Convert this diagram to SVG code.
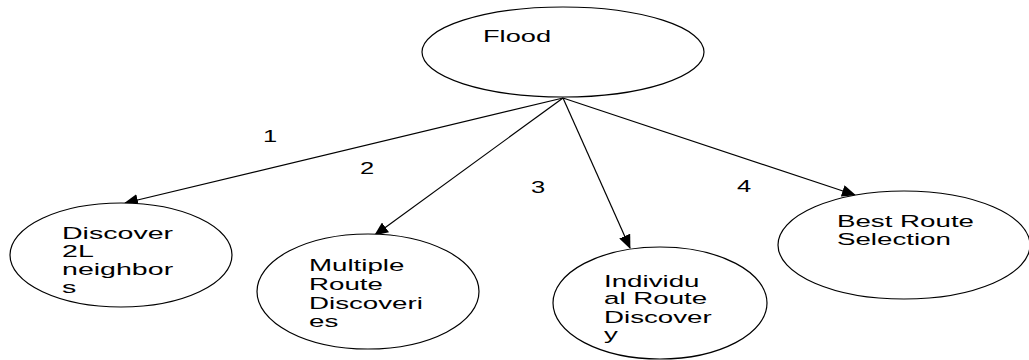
<svg xmlns="http://www.w3.org/2000/svg" width="1029" height="360" viewBox="0 0 1029 360">
<style>
.node{fill:#fff;stroke:#000;stroke-width:1.2}
.lbl{font-family:"Liberation Sans",Arial,sans-serif;font-size:17px;fill:#000}
.edge{stroke:#000;stroke-width:1.2;fill:none;marker-end:url(#ah)}
</style>
<defs>
<marker id="ah" markerUnits="userSpaceOnUse" markerWidth="14" markerHeight="12" viewBox="0 0 14 12" refX="13" refY="6" orient="auto">
<path d="M0,0 L14,6 L0,12 z" fill="#000"/>
</marker>
</defs>
<rect width="1029" height="360" fill="#fff"/>
<g id="connectors">
<line class="edge" x1="563" y1="98" x2="125" y2="203"/>
<line class="edge" x1="563" y1="98" x2="375" y2="235"/>
<line class="edge" x1="563" y1="98" x2="630" y2="248"/>
<line class="edge" x1="563" y1="98" x2="855" y2="195"/>
<text class="lbl" transform="translate(263 142) scale(1.5 1)">1</text>
<text class="lbl" transform="translate(360 174) scale(1.5 1)">2</text>
<text class="lbl" transform="translate(531 193) scale(1.5 1)">3</text>
<text class="lbl" transform="translate(737 192) scale(1.5 1)">4</text>
</g>
<g id="flood">
<ellipse class="node" cx="563" cy="52" rx="141" ry="45"/>
<text class="lbl" transform="translate(483 42) scale(1.6 1)">Flood</text>
</g>
<g id="discover2l">
<ellipse class="node" cx="121" cy="255" rx="111" ry="52"/>
<text class="lbl" transform="translate(62 239) scale(1.68 1)"><tspan x="0" y="0">Discover</tspan><tspan x="0" dy="18.5">2L</tspan><tspan x="0" dy="18">neighbor</tspan><tspan x="0" dy="17.5">s</tspan></text>
</g>
<g id="multiple">
<ellipse class="node" cx="368" cy="291.5" rx="111" ry="57.5"/>
<text class="lbl" transform="translate(309 271) scale(1.63 1)"><tspan x="0" y="0">Multiple</tspan><tspan x="0" dy="19">Route</tspan><tspan x="0" dy="19">Discoveri</tspan><tspan x="0" dy="18">es</tspan></text>
</g>
<g id="individual">
<ellipse class="node" cx="660" cy="303" rx="107" ry="56"/>
<text class="lbl" transform="translate(604 287) scale(1.63 1)"><tspan x="0" y="0">Individu</tspan><tspan x="0" dy="17.5">al Route</tspan><tspan x="0" dy="18.5">Discover</tspan><tspan x="0" dy="17.5">y</tspan></text>
</g>
<g id="best">
<ellipse class="node" cx="904" cy="245" rx="126" ry="54"/>
<text class="lbl" transform="translate(837 227) scale(1.63 1)"><tspan x="0" y="0">Best Route</tspan><tspan x="0" dy="18">Selection</tspan></text>
</g>
</svg>
